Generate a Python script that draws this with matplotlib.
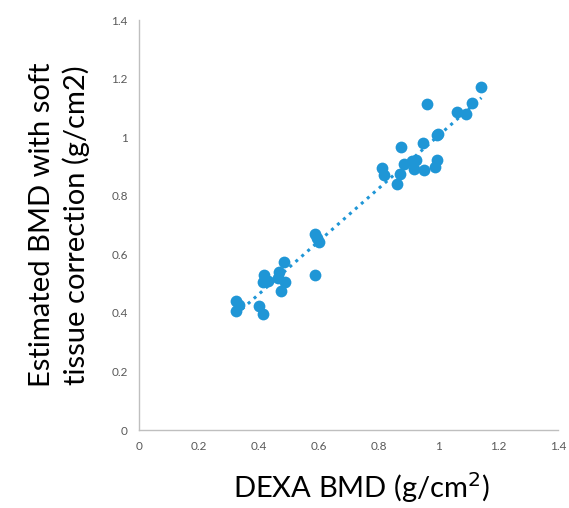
import numpy as np
import matplotlib
matplotlib.use("Agg")
import matplotlib.pyplot as plt

dexa = [1.144, 1.113, 0.961, 1.061, 1.094, 0.994, 1.000, 0.949, 0.875, 0.997, 0.990,
        0.952, 0.919, 0.927, 0.913, 0.887, 0.811, 0.820, 0.873, 0.862,
        0.587, 0.603, 0.596, 0.587, 0.485, 0.467, 0.463, 0.489, 0.474,
        0.419, 0.413, 0.430, 0.324, 0.335, 0.324, 0.402, 0.415]
est = [1.172, 1.116, 1.114, 1.086, 1.079, 1.009, 1.012, 0.981, 0.967, 0.922, 0.899,
       0.887, 0.891, 0.922, 0.919, 0.908, 0.896, 0.870, 0.875, 0.839,
       0.671, 0.643, 0.654, 0.529, 0.575, 0.538, 0.518, 0.506, 0.475,
       0.529, 0.506, 0.509, 0.441, 0.427, 0.407, 0.423, 0.396]
xticks = [0, 0.2, 0.4, 0.6, 0.8, 1, 1.2, 1.4]
yticks = [0, 0.2, 0.4, 0.6, 0.8, 1, 1.2, 1.4]

plt.rcParams['font.family'] = ['Lato', 'DejaVu Sans']
color = '#1f96d6'

fig = plt.figure(figsize=(5.69, 5.08), dpi=100)
ax = fig.add_axes([0.2443, 0.1535, 0.7364, 0.8071])

ax.scatter(dexa, est, s=72, color=color, zorder=3, linewidths=0)
x = np.array(dexa); y = np.array(est)
m, b = np.polyfit(x, y, 1)
xs = np.array([x.min(), x.max()])
ax.plot(xs, m * xs + b, linestyle=(0, (1, 1.6)), color=color, linewidth=2.2, zorder=2)

ax.set_xlim(0, 1.4)
ax.set_ylim(0, 1.4)
ax.set_xticks(xticks)
ax.set_yticks(yticks)
ax.set_xticklabels([f"{t:g}" for t in xticks])
ax.set_yticklabels([f"{t:g}" for t in yticks])
ax.tick_params(length=0, labelsize=8.5, colors='#595959', pad=8)
for s in ['top', 'right']:
    ax.spines[s].set_visible(False)
for s in ['left', 'bottom']:
    ax.spines[s].set_color('#bfbfbf')
    ax.spines[s].set_linewidth(1)

ax.set_xlabel('DEXA BMD (g/cm$^2$)', fontsize=21, color='black')
ax.xaxis.set_label_coords(0.53, -0.098)
ax.set_ylabel('Estimated BMD with soft\ntissue correction (g/cm2)', fontsize=21,
              color='black', linespacing=1.3)
ax.yaxis.set_label_coords(-0.118, 0.5)

fig.savefig('out.png', dpi=100, facecolor='white')
